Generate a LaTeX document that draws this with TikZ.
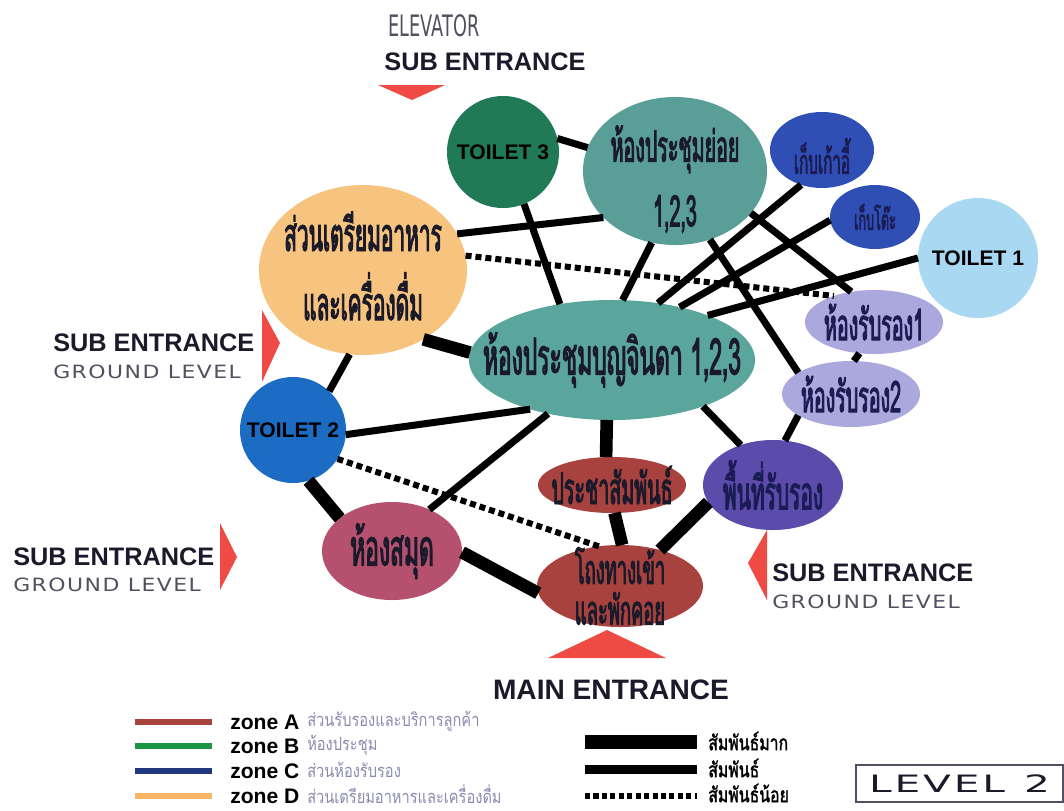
\documentclass[tikz,border=0pt]{standalone}
\usepackage{fontspec}
\setmainfont{Liberation Sans}
\newfontfamily\thaifont[Script=Thai,FakeStretch=0.45,FakeBold=2]{Loma}
\newfontfamily\thaimid[Script=Thai,FakeStretch=0.75,FakeBold=1.5]{Loma}
\newfontfamily\thaithin[Script=Thai,FakeStretch=0.8]{Loma}
\newfontfamily\widefont[FakeStretch=1.2,LetterSpace=8]{DejaVu Sans}
\newfontfamily\levelfont[FakeStretch=1.7,LetterSpace=12]{DejaVu Sans}
\newfontfamily\tallfont[FakeStretch=0.6]{DejaVu Sans}
\usetikzlibrary{shapes.geometric}
\definecolor{toiletthree}{HTML}{1F7A55}
\definecolor{meetc}{HTML}{5A9E98}
\definecolor{storec}{HTML}{2F4FB5}
\definecolor{toiletone}{HTML}{A9D9F2}
\definecolor{kitchenc}{HTML}{F6C47E}
\definecolor{hallc}{HTML}{5BA69C}
\definecolor{recepc}{HTML}{AAA8DD}
\definecolor{toilettwo}{HTML}{1D6CC4}
\definecolor{zonered}{HTML}{A8423E}
\definecolor{waitc}{HTML}{5B4CAB}
\definecolor{libc}{HTML}{B5506E}
\definecolor{arrowc}{HTML}{F04A45}
\definecolor{inkc}{HTML}{1A1A2A}
\definecolor{navyc}{HTML}{1C1C55}
\definecolor{greyc}{HTML}{505060}
\definecolor{lavc}{HTML}{8A8AB0}
\begin{document}
\begin{tikzpicture}[x=0.025cm,y=-0.025cm,
  zone/.style={ellipse,inner sep=0pt,outer sep=0pt},
  wc/.style={circle,inner sep=0pt,outer sep=0pt,font=\bfseries\fontsize{15}{15}\selectfont},
  th/.style={font=\thaifont\fontsize{#1}{#1}\selectfont,align=center,text=inkc},
  strong/.style={line width=9pt},
  link/.style={line width=5pt},
  weak/.style={line width=4.3pt,dash pattern=on 4.3pt off 2.8pt},
  head/.style={font=\bfseries\fontsize{18}{18}\selectfont,text=inkc,inner sep=0pt},
  ground/.style={font=\widefont\fontsize{13}{13}\selectfont,text=greyc,inner sep=0pt},
  legtext/.style={font=\thaithin\fontsize{13}{13}\selectfont,text=lavc,anchor=west,inner sep=0pt},
  zonetag/.style={font=\bfseries\fontsize{15}{15}\selectfont,anchor=west,inner sep=0pt},
  reltext/.style={font=\thaimid\fontsize{15}{15}\selectfont,anchor=west,inner sep=0pt}]
\useasboundingbox (0,0) rectangle (1064,810);

% entrances
\fill[arrowc] (378,85) -- (445,85) -- (412,100) -- cycle;
\fill[arrowc] (262,310) -- (280,343) -- (262,382) -- cycle;
\fill[arrowc] (220,523) -- (237,557) -- (220,590) -- cycle;
\fill[arrowc] (767,530) -- (748,563) -- (767,600) -- cycle;
\fill[arrowc] (548,658) -- (607,630) -- (666,658) -- cycle;
\node[font=\tallfont\fontsize{21}{21}\selectfont,text=greyc,inner sep=0pt] (elev) at (434,26) {ELEVATOR};
\node[head] (subtop) at (485,62) {SUB ENTRANCE};
\node[head,anchor=west] (subleft) at (53,343) {SUB ENTRANCE};
\node[ground,anchor=west] (grleft) at (53,372) {GROUND LEVEL};
\node[head,anchor=west] (sublow) at (13,557) {SUB ENTRANCE};
\node[ground,anchor=west] (grlow) at (13,585) {GROUND LEVEL};
\node[head,anchor=west] (subright) at (772,573) {SUB ENTRANCE};
\node[ground,anchor=west] (grright) at (772,602) {GROUND LEVEL};
\node[head,font=\bfseries\fontsize{20}{20}\selectfont] (mainent) at (611,690) {MAIN ENTRANCE};

% rooms
\node[wc,fill=toiletthree,minimum size=2.8cm] (toilet3) at (503,152) {TOILET 3};
\node[zone,fill=meetc,minimum width=4.6cm,minimum height=3.7cm,
  label={[th=31,yshift=-0.2cm]center:{ห้องประชุมย่อย\\[15pt]1,2,3}}] (meeting) at (675,171) {};
\node[zone,fill=storec,minimum width=2.6cm,minimum height=1.9cm,
  label={[th=24,text=navyc,yshift=-0.15cm]center:{เก็บเก้าอี้}}] (chairs) at (822,150) {};
\node[zone,fill=storec,minimum width=2.25cm,minimum height=1.6cm,
  label={[th=20,text=navyc]center:{เก็บโต๊ะ}}] (tables) at (875,217) {};
\node[wc,fill=toiletone,minimum size=3cm] (toilet1) at (978,258) {TOILET 1};
\node[zone,fill=kitchenc,minimum width=5.2cm,minimum height=4.25cm,
  label={[th=33,yshift=0.1cm]center:{ส่วนเตรียมอาหาร\\[14pt]และเครื่องดื่ม}}] (kitchen) at (363,270) {};
\node[zone,fill=hallc,minimum width=7.15cm,minimum height=3cm,
  label={[th=36]center:{ห้องประชุมบุญจินดา 1,2,3}}] (hall) at (612,360) {};
\node[zone,fill=recepc,minimum width=3.45cm,minimum height=1.6cm,
  label={[th=31,text=navyc]center:{ห้องรับรอง1}}] (recep1) at (874,322) {};
\node[zone,fill=recepc,minimum width=3.45cm,minimum height=1.65cm,
  label={[th=31,text=navyc]center:{ห้องรับรอง2}}] (recep2) at (851,394) {};
\node[wc,fill=toilettwo,minimum size=2.65cm] (toilet2) at (293,430) {TOILET 2};
\node[zone,fill=zonered,minimum width=3.7cm,minimum height=1.4cm,
  label={[th=31]center:{ประชาสัมพันธ์}}] (pr) at (612,485) {};
\node[zone,fill=waitc,minimum width=3.5cm,minimum height=2.25cm,
  label={[th=33,text=navyc]center:{พื้นที่รับรอง}}] (waiting) at (773,485) {};
\node[zone,fill=libc,minimum width=3.5cm,minimum height=2.45cm,
  label={[th=36]center:{ห้องสมุด}}] (library) at (392,551) {};
\node[zone,fill=zonered,minimum width=4.15cm,minimum height=2.05cm,
  label={[th=29]center:{โถงทางเข้า\\และพักคอย}}] (lobby) at (620,586) {};

% links
\draw[link] (toilet3.14) -- (meeting.165);
\draw[link] (toilet3.-68) -- (hall.133);
\draw[link] (kitchen.21) -- (meeting.213);
\draw[weak] (kitchen.8) -- (recep1.147);
\draw[strong] (kitchen.-49) -- (hall.177);
\draw[link] (kitchen.261) -- (toilet2.47);
\draw[link] (meeting.252) -- (hall.80);
\draw[link] (meeting.-63) -- (recep2.158);
\draw[link] (meeting.-29) -- (recep1.127);
\draw[link] (chairs.239) -- (hall.51);
\draw[link] (tables.184) -- (hall.38);
\draw[link] (toilet1.180) -- (hall.25);
\draw[link] (recep1.-115) -- (recep2.85);
\draw[link] (recep2.202) -- (waiting.75);
\draw[link] (hall.-27) -- (waiting.129);
\draw[strong] (hall.-95) -- (pr.102);
\draw[link] (toilet2.-5) -- (hall.211);
\draw[link] (hall.220) -- (library.48);
\draw[strong] (toilet2.-73) -- (library.148);
\draw[weak] (toilet2.-33) -- (lobby.118);
\draw[strong] (pr.-85) -- (lobby.87);
\draw[strong] (waiting.195) -- (lobby.42);
\draw[strong] (library.-1) -- (lobby.185);

% legend
\draw[line width=4.3pt,zonered] (135,722) -- (212,722);
\draw[line width=4.3pt,toiletthree!80!green] (135,746) -- (212,746);
\draw[line width=4.3pt,storec!70!black] (135,771) -- (212,771);
\draw[line width=4.3pt,kitchenc!80!orange] (135,796) -- (212,796);
\node[zonetag] (za) at (230,722) {zone A};
\node[zonetag] (zb) at (230,746) {zone B};
\node[zonetag] (zc) at (230,771) {zone C};
\node[zonetag] (zd) at (230,796) {zone D};
\node[legtext] (ta) at (307,721) {ส่วนรับรองและบริการลูกค้า};
\node[legtext] (tb) at (307,745) {ห้องประชุม};
\node[legtext] (tc) at (307,770) {ส่วนห้องรับรอง};
\node[legtext] (td) at (307,794) {ส่วนเตรียมอาหารและเครื่องดื่ม};
\draw[line width=10pt] (585,742) -- (697,742);
\draw[line width=6.4pt] (585,769) -- (697,769);
\draw[line width=3.6pt,dash pattern=on 3.6pt off 2.4pt] (585,796) -- (697,796);
\node[reltext] (rmore) at (708,741) {สัมพันธ์มาก};
\node[reltext] (rmid) at (708,768) {สัมพันธ์};
\node[reltext] (rless) at (708,793) {สัมพันธ์น้อย};
\node[draw=greyc,line width=1pt,minimum width=5.17cm,minimum height=0.92cm,
  font=\levelfont\fontsize{17}{17}\selectfont,text=inkc] (level) at (959.5,783.5) {LEVEL\hspace{0.8em}2};
\end{tikzpicture}
\end{document}
